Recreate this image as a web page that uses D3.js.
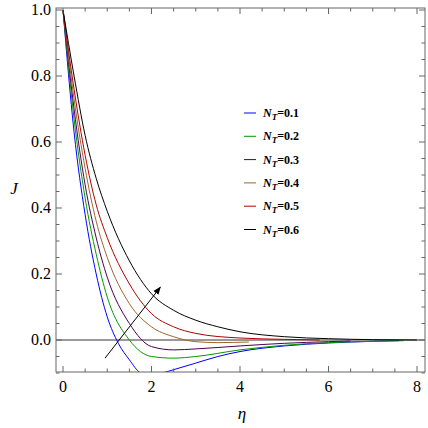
<!DOCTYPE html><html><head><script src="https://cdn.jsdelivr.net/npm/d3@7"></script>
<style>body{margin:0;background:#fff}</style></head><body><svg id="c" width="428" height="428"></svg><script>
const etaBlack=[0,0.25,0.5,0.75,1,1.5,2,2.5,3,3.5,4,5,6,7,8];
const jBlack=[1,0.8,0.62,0.49,0.39,0.24,0.14,0.09,0.06,0.04,0.025,0.01,0.004,0.001,0];
const etaRed=[0,0.25,0.5,0.75,1,1.5,2,2.5,3,4,5,5.8];
const jRed=[1,0.76,0.56,0.41,0.31,0.17,0.08,0.04,0.02,0.006,0.002,0];
const etaBrown=[0,0.25,0.5,0.75,1,1.5,2,2.5,3,3.5,4.2];
const jBrown=[1,0.73,0.52,0.36,0.25,0.11,0.04,0.01,-0.005,-0.008,-0.006];
const etaPurple=[0,0.25,0.5,0.75,1,1.5,2,2.5,3,4,5,6,6.5];
const jPurple=[1,0.7,0.47,0.31,0.19,0.05,-0.02,-0.03,-0.027,-0.018,-0.01,-0.005,-0.003];
const etaGreen=[0,0.25,0.5,0.75,1,1.5,2,2.5,3,4,5,6,7,7.7];
const jGreen=[1,0.67,0.43,0.26,0.13,0,-0.05,-0.055,-0.05,-0.03,-0.016,-0.008,-0.004,-0.002];
const etaBlue=[0,0.25,0.5,0.75,1,1.25,1.5,1.75,2,2.25,2.5,3,3.5,4,5,6,7,7.6];
const jBlue=[1,0.63,0.38,0.2,0.07,-0.01,-0.06,-0.1,-0.11,-0.1,-0.09,-0.07,-0.05,-0.035,-0.018,-0.009,-0.004,-0.002];
const labels=["0.1","0.2","0.3","0.4","0.5","0.6"];
const colors=["#0000ff","#009900","#4b0055","#a0642a","#b20000","#000000"];
const series=[[etaBlue,jBlue],[etaGreen,jGreen],[etaPurple,jPurple],[etaBrown,jBrown],[etaRed,jRed],[etaBlack,jBlack]];
const xTicks=[0,2,4,6,8], yTicks=[0,0.2,0.4,0.6,0.8,1.0];
const svg=d3.select("#c");
const L=56,R=425,T=8,B=372;
const x=d3.scaleLinear().domain([0,8]).range([63,417]);
const y=d3.scaleLinear().domain([0,1]).range([340,10]);
const y0=y.invert(B), y1=y.invert(T);
svg.append("defs").append("clipPath").attr("id","cp").append("rect").attr("x",L).attr("y",T).attr("width",R-L).attr("height",B-T);
const g=svg.append("g").attr("clip-path","url(#cp)");
g.append("line").attr("x1",L).attr("x2",R).attr("y1",y(0)).attr("y2",y(0)).attr("stroke","#000").attr("stroke-width",0.8);
const line=d3.line().x(d=>x(d[0])).y(d=>y(d[1])).curve(d3.curveMonotoneX);
series.forEach((s,i)=>{g.append("path").attr("d",line(s[0].map((e,k)=>[e,s[1][k]]))).attr("fill","none").attr("stroke",colors[i]).attr("stroke-width",1);});
const ax="#666";
svg.append("rect").attr("x",L).attr("y",T).attr("width",R-L).attr("height",B-T).attr("fill","none").attr("stroke",ax);
const f="'Liberation Serif',serif";
d3.range(0,8.01,0.5).forEach(v=>{const len=v%2===0?6:3.5;
 svg.append("line").attr("x1",x(v)).attr("x2",x(v)).attr("y1",B).attr("y2",B-len).attr("stroke",ax);
 svg.append("line").attr("x1",x(v)).attr("x2",x(v)).attr("y1",T).attr("y2",T+len).attr("stroke",ax);});
d3.range(-0.1,1.001,0.05).forEach(v=>{const mj=Math.abs(Math.round(v*10)-v*10)<1e-6&&Math.round(v*10)%2===0;const len=mj?6:3.5;
 svg.append("line").attr("x1",L).attr("x2",L+len).attr("y1",y(v)).attr("y2",y(v)).attr("stroke",ax);
 svg.append("line").attr("x1",R).attr("x2",R-len).attr("y1",y(v)).attr("y2",y(v)).attr("stroke",ax);});
xTicks.forEach(v=>svg.append("text").attr("x",x(v)).attr("y",392).attr("text-anchor","middle").attr("font-family",f).attr("font-size",16).text(v));
yTicks.forEach(v=>svg.append("text").attr("x",L-5).attr("y",y(v)+5).attr("text-anchor","end").attr("font-family",f).attr("font-size",16).text(v.toFixed(1)));
svg.append("text").attr("x",242).attr("y",419).attr("text-anchor","middle").attr("font-family",f).attr("font-style","italic").attr("font-size",17).text("η");
svg.append("text").attr("x",14).attr("y",194).attr("text-anchor","middle").attr("font-family",f).attr("font-style","italic").attr("font-size",17).text("J");
labels.forEach((l,i)=>{const yy=113+i*23.3;
 svg.append("line").attr("x1",244).attr("x2",256).attr("y1",yy).attr("y2",yy).attr("stroke",colors[i]);
 const t=svg.append("text").attr("x",263).attr("y",yy+4).attr("font-family",f).attr("font-weight","bold").attr("font-size",12);
 t.append("tspan").attr("font-style","italic").text("N");
 t.append("tspan").attr("font-style","italic").attr("font-size",9).attr("dy",3).text("T");
 t.append("tspan").attr("dy",-3).text("=0."+(i+1));});
svg.append("defs").append("marker").attr("id","ah").attr("viewBox","0 0 10 10").attr("refX",9).attr("refY",5).attr("markerWidth",8).attr("markerHeight",8).attr("orient","auto").append("path").attr("d","M0,1L10,5L0,9z").attr("fill","#000");
svg.append("line").attr("x1",x(0.95)).attr("y1",y(-0.055)).attr("x2",x(2.2)).attr("y2",y(0.16)).attr("stroke","#000").attr("marker-end","url(#ah)");
</script></body></html>
